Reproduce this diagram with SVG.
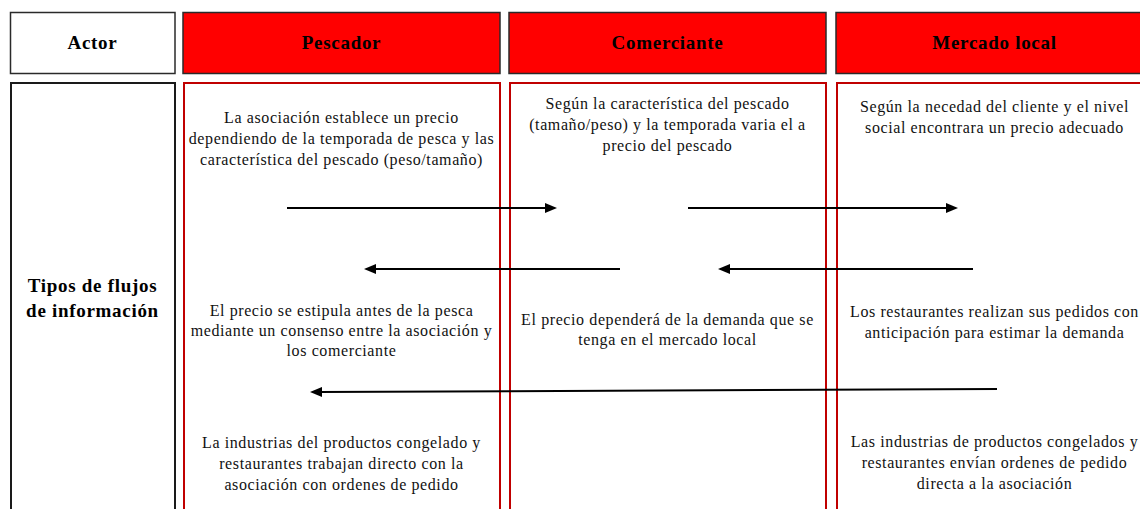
<svg xmlns="http://www.w3.org/2000/svg" width="1140" height="509" viewBox="0 0 1140 509">
<style>
.hdr{fill:#ff0000;stroke:#2a2a2a;stroke-width:1.5}
.hdrw{fill:#ffffff;stroke:#2a2a2a;stroke-width:1.5}
.bodyk{fill:#ffffff;stroke:#1a1a1a;stroke-width:2}
.bodyr{fill:none;stroke:#c00000;stroke-width:2}
.h{font-family:'Liberation Serif','Times New Roman',serif;font-weight:bold;font-size:19px;letter-spacing:0.7px;fill:#000;text-anchor:middle}
.t{font-family:'Liberation Serif','Times New Roman',serif;font-size:16px;letter-spacing:0.6px;fill:#111;text-anchor:middle}
.c{stroke:#000;stroke-width:2;fill:none;marker-end:url(#ah)}
</style>
<defs>
<marker id="ah" viewBox="0 0 12 10" refX="4" refY="5" markerWidth="12" markerHeight="10" markerUnits="userSpaceOnUse" orient="auto">
<path d="M0,0 L12,5 L0,10 z" fill="#000"/>
</marker>
</defs>
<rect width="1140" height="509" fill="#ffffff"/>
<g id="actor">
<rect class="hdrw" x="10.5" y="12.5" width="164.5" height="61"/>
<text class="h" x="92.5" y="49">Actor</text>
</g>
<g id="pescador">
<rect class="hdr" x="183" y="12.5" width="317" height="61"/>
<text class="h" x="341.5" y="49">Pescador</text>
</g>
<g id="comerciante">
<rect class="hdr" x="509" y="12.5" width="317" height="61"/>
<text class="h" x="667.5" y="49">Comerciante</text>
</g>
<g id="mercado">
<rect class="hdr" x="836" y="12.5" width="317" height="61"/>
<text class="h" x="994.5" y="49">Mercado local</text>
</g>
<g id="actor-body">
<rect class="bodyk" x="11" y="83" width="164" height="440"/>
<text class="h" x="92.5" y="292">Tipos de flujos</text>
<text class="h" x="92.5" y="317">de información</text>
</g>
<g id="pescador-body">
<rect class="bodyr" x="184" y="83" width="316" height="440"/>
<text class="t" x="341.5" y="123">La asociación establece un precio</text>
<text class="t" x="341.5" y="144">dependiendo de la temporada de pesca y las</text>
<text class="t" x="341.5" y="165">característica del pescado (peso/tamaño)</text>
<text class="t" x="341.5" y="316">El precio se estipula antes de la pesca</text>
<text class="t" x="341.5" y="336">mediante un consenso entre la asociación y</text>
<text class="t" x="341.5" y="356">los comerciante</text>
<text class="t" x="341.5" y="448">La industrias del productos congelado y</text>
<text class="t" x="341.5" y="469">restaurantes trabajan directo con la</text>
<text class="t" x="341.5" y="490">asociación con ordenes de pedido</text>
</g>
<g id="comerciante-body">
<rect class="bodyr" x="510" y="83" width="316" height="440"/>
<text class="t" x="667.5" y="109">Según la característica del pescado</text>
<text class="t" x="667.5" y="130">(tamaño/peso) y la temporada varia el a</text>
<text class="t" x="667.5" y="151">precio del pescado</text>
<text class="t" x="667.5" y="325">El precio dependerá de la demanda que se</text>
<text class="t" x="667.5" y="345">tenga en el mercado local</text>
</g>
<g id="mercado-body">
<rect class="bodyr" x="837" y="83" width="316" height="440"/>
<text class="t" x="994.5" y="112">Según la necedad del cliente y el nivel</text>
<text class="t" x="994.5" y="133">social encontrara un precio adecuado</text>
<text class="t" x="994.5" y="317">Los restaurantes realizan sus pedidos con</text>
<text class="t" x="994.5" y="338">anticipación para estimar la demanda</text>
<text class="t" x="994.5" y="447">Las industrias de productos congelados y</text>
<text class="t" x="994.5" y="468">restaurantes envían ordenes de pedido</text>
<text class="t" x="994.5" y="489">directa a la asociación</text>
</g>
<g id="connectors">
<line class="c" x1="287" y1="208" x2="549" y2="208"/>
<line class="c" x1="688" y1="208" x2="950" y2="208"/>
<line class="c" x1="620" y1="269" x2="372" y2="269"/>
<line class="c" x1="973" y1="269" x2="726" y2="269"/>
<line class="c" x1="997" y1="389" x2="318" y2="392"/>
</g>
</svg>
